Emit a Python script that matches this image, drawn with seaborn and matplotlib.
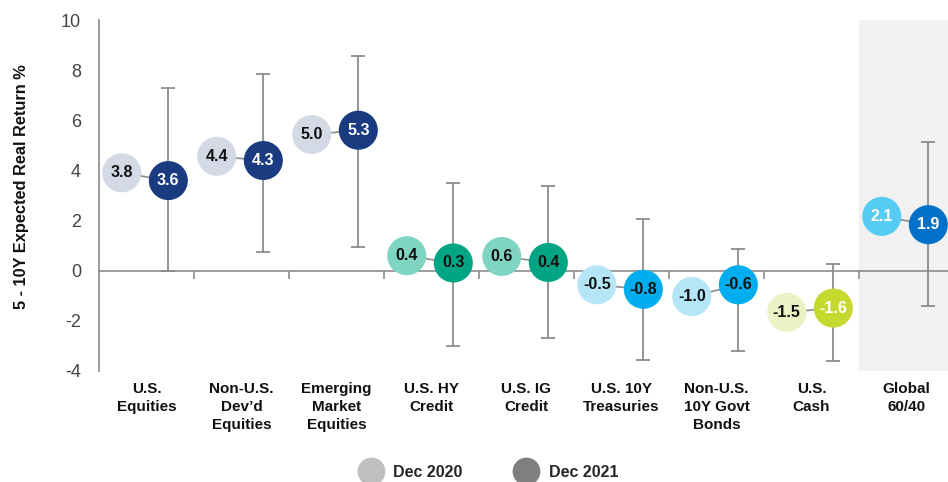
import matplotlib.pyplot as plt
import pandas as pd
import seaborn as sns
from matplotlib.lines import Line2D

sns.set_theme(style="white")
plt.rcParams["font.family"] = ["Liberation Sans", "DejaVu Sans"]

categories = [
    "U.S.\nEquities",
    "Non-U.S.\nDev\u2019d\nEquities",
    "Emerging\nMarket\nEquities",
    "U.S. HY\nCredit",
    "U.S. IG\nCredit",
    "U.S. 10Y\nTreasuries",
    "Non-U.S.\n10Y Govt\nBonds",
    "U.S.\nCash",
    "Global\n60/40",
]
# printed labels
dec2020 = [3.8, 4.4, 5.0, 0.4, 0.6, -0.5, -1.0, -1.5, 2.1]
dec2021 = [3.6, 4.3, 5.3, 0.3, 0.4, -0.8, -0.6, -1.6, 1.9]
# where the dots actually sit in the chart
pos2020 = [3.9, 4.56, 5.43, 0.59, 0.56, -0.57, -1.04, -1.67, 2.16]
pos2021 = [3.59, 4.39, 5.6, 0.3, 0.32, -0.75, -0.57, -1.5, 1.83]
range_high = [7.27, 7.84, 8.56, 3.51, 3.36, 2.04, 0.87, 0.26, 5.12]
range_low = [0.0, 0.73, 0.94, -3.0, -2.7, -3.57, -3.2, -3.62, -1.4]

light_colors = ["#D3DAE6", "#D3DAE6", "#D3DAE6", "#80D5C2", "#80D5C2",
                "#B5E6F8", "#B5E6F8", "#E9F3C5", "#56CCF5"]
dark_colors = ["#1B3B80", "#1B3B80", "#1B3B80", "#00A583", "#00A583",
               "#00AEEF", "#00AEEF", "#C5D92F", "#0070C9"]
light_text = ["#111111"] * 8 + ["white"]
dark_text = ["white", "white", "white", "#111111", "#111111",
             "#111111", "#111111", "white", "white"]

OFF20, OFF21 = -0.26, 0.23

rows = []
for i, cat in enumerate(categories):
    rows.append({"x": i + OFF20, "y": pos2020[i], "label": dec2020[i], "key": f"l{i}",
                 "color": light_colors[i], "tc": light_text[i]})
    rows.append({"x": i + OFF21, "y": pos2021[i], "label": dec2021[i], "key": f"d{i}",
                 "color": dark_colors[i], "tc": dark_text[i]})
df = pd.DataFrame(rows)
palette = dict(zip(df["key"], df["color"]))

fig = plt.figure(figsize=(9.48, 4.82), dpi=100)
ax = fig.add_axes([0.1044, 0.2309, 0.8956, 0.7276])
ax.set_xlim(-0.5, 8.437)
ax.set_ylim(-4, 10)

grey = "#8C8C8C"
ax.axvspan(7.5, 8.437, color="#F1F1F1", zorder=0, lw=0)

# connectors between the two dots
for i in range(len(categories)):
    ax.plot([i + OFF20, i + OFF21], [pos2020[i], pos2021[i]], color=grey, lw=1.2, zorder=2)

xs21 = [i + OFF21 for i in range(len(categories))]
yerr = [[v - lo for v, lo in zip(pos2021, range_low)],
        [hi - v for v, hi in zip(pos2021, range_high)]]
ax.errorbar(xs21, pos2021, yerr=yerr, fmt="none", ecolor=grey, elinewidth=1.3,
            capsize=5, capthick=1.3, zorder=2)

sns.scatterplot(data=df, x="x", y="y", hue="key", palette=palette, s=790,
                edgecolor="none", linewidth=0, legend=False, ax=ax, zorder=3)

for _, r in df.iterrows():
    ax.text(r["x"], r["y"], f"{r['label']:.1f}", ha="center", va="center",
            fontsize=11.5, fontweight="bold", color=r["tc"], zorder=4)

# axes styling
for s in ["top", "right"]:
    ax.spines[s].set_visible(False)
ax.spines["left"].set_color(grey)
ax.spines["left"].set_linewidth(1.2)
ax.spines["bottom"].set_position(("data", 0))
ax.spines["bottom"].set_color(grey)
ax.spines["bottom"].set_linewidth(1.2)

ax.set_yticks(range(-4, 11, 2))
ax.set_yticklabels([str(t) for t in range(-4, 11, 2)])
ax.tick_params(axis="y", direction="out", length=5, width=1.2, color=grey,
               labelsize=13, labelcolor="#444444", pad=8)
ax.set_xticks([i + 0.5 for i in range(len(categories) - 1)])
ax.set_xticklabels([])
ax.tick_params(axis="x", direction="out", length=6, width=1.2, color=grey, bottom=True)
ax.set_xlabel("")
ax.set_ylabel("5 - 10Y Expected Real Return %", fontsize=11.8, fontweight="bold",
              color="#111111")
ax.yaxis.set_label_coords(-0.083, 0.524)

for i, cat in enumerate(categories):
    ax.text(i, -4.45, cat, ha="center", va="top", fontsize=11, fontweight="bold",
            color="#111111", linespacing=1.35)

handles = [
    Line2D([], [], marker="o", linestyle="none", markersize=20, markerfacecolor="#BFBFBF",
           markeredgecolor="none", label="Dec 2020"),
    Line2D([], [], marker="o", linestyle="none", markersize=20, markerfacecolor="#7F7F7F",
           markeredgecolor="none", label="Dec 2021"),
]
leg = fig.legend(handles=handles, loc="center", bbox_to_anchor=(0.513, 0.02), ncol=2,
                 frameon=False, columnspacing=3.0, handletextpad=0.4,
                 prop={"weight": "bold", "size": 11.5})

fig.savefig("out.png", dpi=100)
